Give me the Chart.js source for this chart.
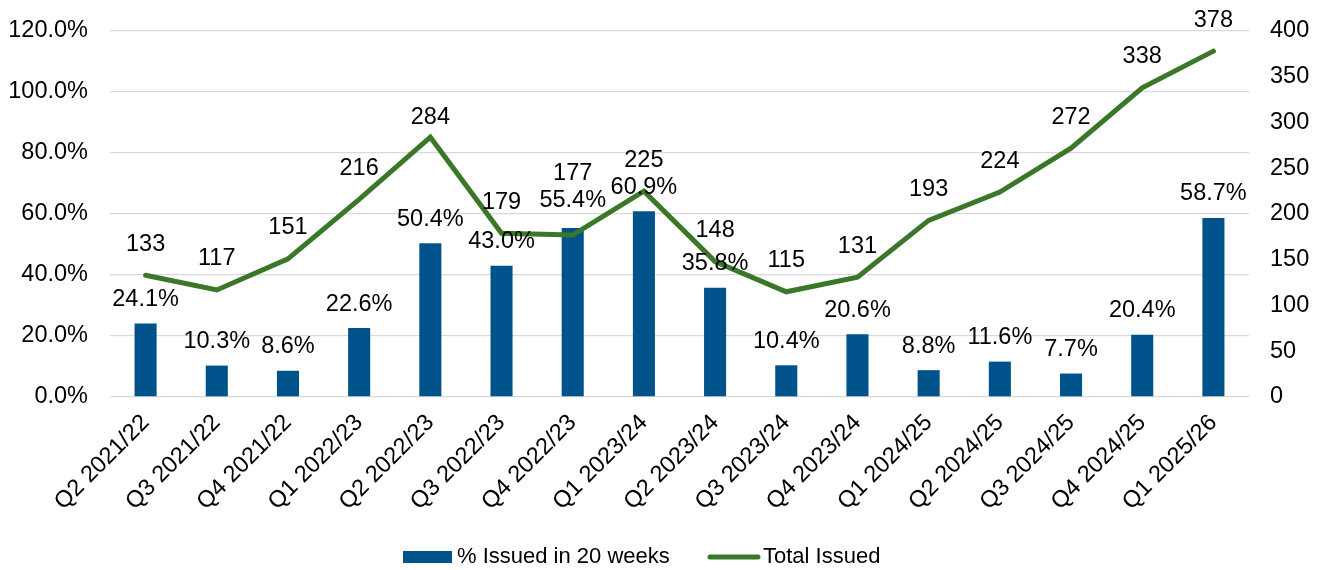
<!DOCTYPE html>
<html>
<head>
<meta charset="utf-8">
<script src="https://cdn.jsdelivr.net/npm/chart.js@4.4.1/dist/chart.umd.min.js"></script>
<style>
  html, body { margin: 0; padding: 0; background: #ffffff; }
  #wrap { width: 1319px; height: 570px; position: relative; }
</style>
</head>
<body>
<div id="wrap"><canvas id="c" width="1319" height="570"></canvas></div>
<script>
const categories = ["Q2 2021/22","Q3 2021/22","Q4 2021/22","Q1 2022/23","Q2 2022/23","Q3 2022/23","Q4 2022/23","Q1 2023/24","Q2 2023/24","Q3 2023/24","Q4 2023/24","Q1 2024/25","Q2 2024/25","Q3 2024/25","Q4 2024/25","Q1 2025/26"];
const pctIssued20Weeks = [24.1,10.3,8.6,22.6,50.4,43.0,55.4,60.9,35.8,10.4,20.6,8.8,11.6,7.7,20.4,58.7];
const totalIssued = [133,117,151,216,284,179,177,225,148,115,131,193,224,272,338,378];
const leftTicks = {min: 0, max: 120, step: 20};
const rightTicks = {min: 0, max: 400, step: 50};

const FONT = "'Liberation Sans', Arial, sans-serif";
const BAR_COLOR = "#00538A";
const LINE_COLOR = "#3A7728";
const TEXT_COLOR = "#000000";
const FS = 23.5;

const labelPlugin = {
  id: 'valueLabels',
  afterDatasetsDraw(chart, args, opts) {
    const ctx = chart.ctx;
    ctx.save();
    ctx.font = FS + "px " + FONT;
    ctx.fillStyle = TEXT_COLOR;
    ctx.textAlign = 'center';
    ctx.textBaseline = 'middle';
    chart.data.datasets.forEach((ds, di) => {
      const meta = chart.getDatasetMeta(di);
      meta.data.forEach((el, i) => {
        const v = ds.data[i];
        let txt, off;
        if (ds.type === 'bar') {
          txt = v.toFixed(1) + '%';
          off = (opts.barOffsets && opts.barOffsets[i] !== undefined) ? opts.barOffsets[i] : opts.barOffset;
        } else {
          txt = String(v);
          off = (opts.lineOffsets && opts.lineOffsets[i] !== undefined) ? opts.lineOffsets[i] : opts.lineOffset;
        }
        ctx.fillText(txt, el.x, el.y - off);
      });
    });
    ctx.restore();
  }
};

const legendPlugin = {
  id: 'customLegend',
  afterDraw(chart, args, opts) {
    const ctx = chart.ctx;
    ctx.save();
    ctx.font = "22px " + FONT;
    ctx.fillStyle = TEXT_COLOR;
    ctx.textBaseline = 'middle';
    ctx.textAlign = 'left';
    const y = opts.y;
    let x = opts.x;
    const ds0 = chart.data.datasets[1];
    const ds1 = chart.data.datasets[0];
    ctx.fillStyle = ds0.backgroundColor;
    ctx.fillRect(x, y - 6, 49, 12);
    x += 54;
    ctx.fillStyle = TEXT_COLOR;
    ctx.fillText(ds0.label, x, y);
    x = opts.x2;
    ctx.strokeStyle = ds1.borderColor;
    ctx.lineWidth = 5;
    ctx.lineCap = 'round';
    ctx.beginPath();
    ctx.moveTo(x + 2, y);
    ctx.lineTo(x + 50, y);
    ctx.stroke();
    x += 55;
    ctx.fillText(ds1.label, x, y);
    ctx.restore();
  }
};

new Chart(document.getElementById('c'), {
  data: {
    labels: categories,
    datasets: [
      {
        type: 'line',
        label: 'Total Issued',
        data: totalIssued,
        yAxisID: 'yR',
        borderColor: LINE_COLOR,
        backgroundColor: LINE_COLOR,
        borderWidth: 5,
        pointRadius: 0,
        pointHoverRadius: 0,
        tension: 0,
        borderCapStyle: 'round',
        order: 0
      },
      {
        type: 'bar',
        label: '% Issued in 20 weeks',
        data: pctIssued20Weeks,
        yAxisID: 'yL',
        backgroundColor: BAR_COLOR,
        borderWidth: 0,
        barPercentage: 0.31,
        categoryPercentage: 1.0,
        order: 1
      }
    ]
  },
  options: {
    responsive: false,
    animation: false,
    events: [],
    layout: { padding: { top: 31, right: 0, bottom: 50, left: 0 } },
    plugins: {
      legend: { display: false },
      tooltip: { enabled: false },
      valueLabels: { barOffset: 24, lineOffset: 31, lineOffsets: {4: 20, 6: 62}, barOffsets: {6: 28} },
      customLegend: { x: 403, x2: 708, y: 557 }
    },
    scales: {
      x: {
        grid: { display: false, drawTicks: false },
        border: { display: false },
        ticks: {
          autoSkip: false,
          maxRotation: 45,
          minRotation: 45,
          padding: 12,
          color: TEXT_COLOR,
          font: { family: FONT, size: FS }
        },
        afterFit(s) { s.height = 123; }
      },
      yL: {
        position: 'left',
        min: leftTicks.min,
        max: leftTicks.max,
        grid: { color: '#D9D9D9', lineWidth: 1.3, drawTicks: false },
        border: { display: false },
        ticks: {
          stepSize: leftTicks.step,
          padding: 22,
          color: TEXT_COLOR,
          font: { family: FONT, size: FS },
          callback: v => v.toFixed(1) + '%'
        },
        afterFit(s) { s.width = 110; s.paddingTop = 0; s.paddingBottom = 0; }
      },
      yR: {
        position: 'right',
        min: rightTicks.min,
        max: rightTicks.max,
        grid: { display: false, drawTicks: false },
        border: { display: false },
        ticks: {
          stepSize: rightTicks.step,
          padding: 21,
          color: TEXT_COLOR,
          font: { family: FONT, size: FS }
        },
        afterFit(s) { s.width = 70; s.paddingTop = 0; s.paddingBottom = 0; }
      }
    }
  },
  plugins: [labelPlugin, legendPlugin]
});
</script>
</body>
</html>
